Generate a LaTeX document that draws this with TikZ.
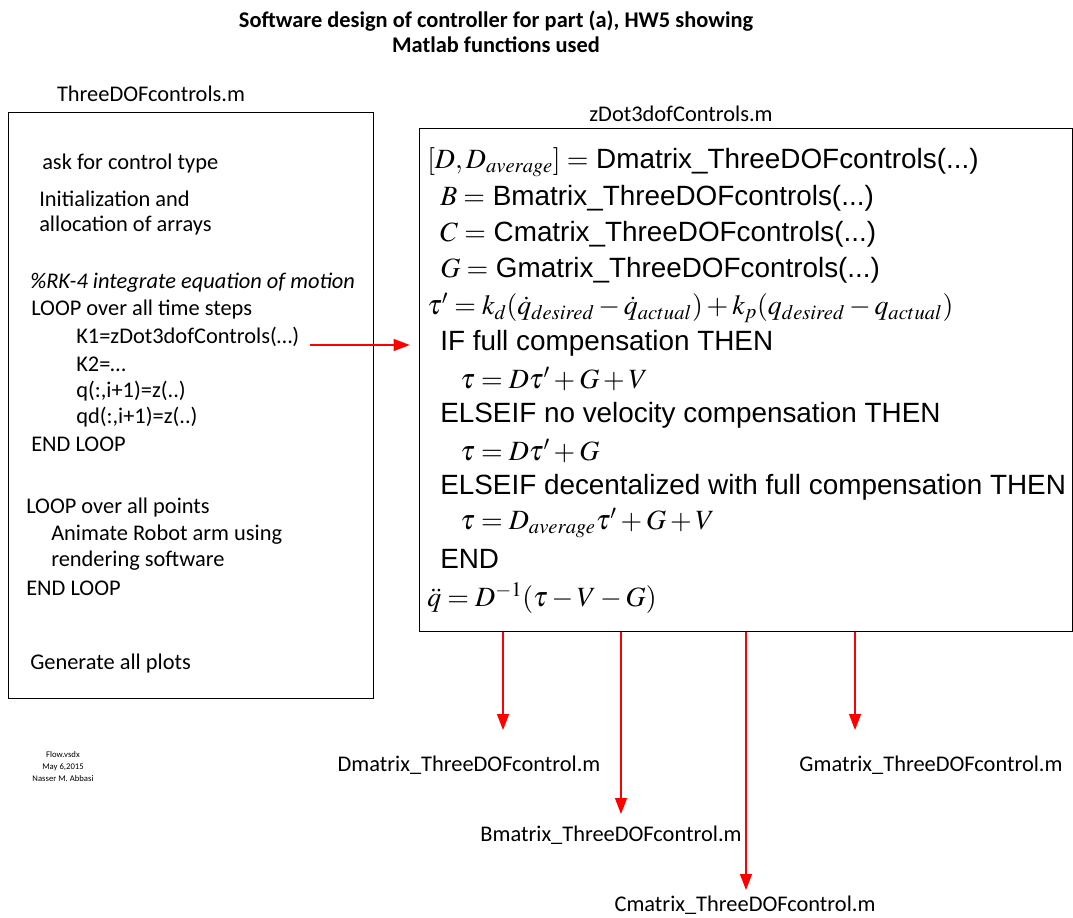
\documentclass[tikz,border=0pt]{standalone}
\usepackage{mathptmx}
\usepackage[no-math]{fontspec}
\setmainfont{Carlito}
\newfontfamily\arialfont{Liberation Sans}
\usetikzlibrary{arrows.meta,positioning}
\definecolor{ArrowRed}{HTML}{FF0000}
\tikzset{
 box/.style={draw=black, line width=0.9pt, inner sep=0pt, anchor=north west},
 ltxt/.style={anchor=west, inner sep=0pt, font=\fontsize{16.8}{20}\selectfont},
 rtxt/.style={anchor=west, inner sep=0pt, font=\arialfont\fontsize{20.9}{24}\selectfont},
 filelabel/.style={inner sep=0pt, font=\fontsize{16.8}{20}\selectfont},
 arrow/.style={-{Triangle[length=12pt,width=9pt]}, draw=ArrowRed, line width=0.8pt}
}

\begin{document}
\begin{tikzpicture}[x=0.75pt,y=-0.75pt]
\useasboundingbox (0,0) rectangle (1073,917);
\node[align=center, font=\bfseries\fontsize{16.8}{19}\selectfont] (title) at (496,32) {Software design of controller for part (a), HW5 showing\\Matlab functions used};

\node[filelabel] (mainlabel) at (151,94) {ThreeDOFcontrols.m};
\node[box, minimum width=273.75pt, minimum height=439.5pt] (lbox) at (8,112) {};
\foreach \x/\y/\t in {42/164/ask for control type, 39/199/Initialization and, 39/226/allocation of arrays,
  30/283/{\itshape\%RK-4 integrate equation of motion}, 31/310/LOOP over all time steps,
  76/364/K2=…, 76/391/{q(:,i+1)=z(..)}, 76/417/{qd(:,i+1)=z(..)}, 31/444/END LOOP,
  26/508/LOOP over all points, 51/535/Animate Robot arm using, 51/561/rendering software,
  26/588/END LOOP, 30/664/Generate all plots}{
  \node[ltxt] at (\x,\y) {\t};
}
\node[ltxt] (kone) at (76,337) {K1=zDot3dofControls(…)};

\node[filelabel] (zdotlabel) at (681,114) {zDot3dofControls.m};
\node[box, minimum width=489.75pt, minimum height=377.25pt] (rbox) at (419,128) {};
\node[rtxt] at (427,162) {$[D,D_{average}]=$ Dmatrix\_ThreeDOFcontrols(...)};
\node[rtxt] at (440,198) {$B=$ Bmatrix\_ThreeDOFcontrols(...)};
\node[rtxt] at (440,234) {$C=$ Cmatrix\_ThreeDOFcontrols(...)};
\node[rtxt] at (440,270) {$G=$ Gmatrix\_ThreeDOFcontrols(...)};
\node[rtxt] at (427,308) {$\tau'=k_d(\dot q_{desired}-\dot q_{actual})+k_p(q_{desired}-q_{actual})$};
\node[rtxt] at (440,343) {IF full compensation THEN};
\node[rtxt] at (460,379) {$\tau=D\tau'+G+V$};
\node[rtxt] at (440,415) {ELSEIF no velocity compensation THEN};
\node[rtxt] at (460,451) {$\tau=D\tau'+G$};
\node[rtxt] at (440,487) {ELSEIF decentalized with full compensation THEN};
\node[rtxt] at (460,523) {$\tau=D_{average}\tau'+G+V$};
\node[rtxt] at (440,559) {END};
\node[rtxt] at (427,598) {$\ddot q=D^{-1}(\tau-V-G)$};

\draw[arrow, shorten <=8pt, shorten >=7pt] ([yshift=-6pt]kone.east) -- ([yshift=-6pt]kone.east -| rbox.west);

\node[filelabel] (dfile) at (469,765) {Dmatrix\_ThreeDOFcontrol.m};
\node[filelabel] (bfile) at (611,835) {Bmatrix\_ThreeDOFcontrol.m};
\node[filelabel] (cfile) at (745,905) {Cmatrix\_ThreeDOFcontrol.m};
\node[filelabel] (gfile) at (931,765) {Gmatrix\_ThreeDOFcontrol.m};
\coordinate (dtip) at (503,730);
\coordinate (btip) at (621,814);
\coordinate (ctip) at (746,890);
\coordinate (gtip) at (855,730);
\foreach \c in {dtip,btip,ctip,gtip}{
  \draw[arrow] (rbox.south -| \c) -- (\c);
}

\node[align=center, inner sep=0pt, font=\fontsize{6.5}{9}\selectfont] (credit) at (63,767) {Flow.vsdx\\May 6,2015\\Nasser M. Abbasi};
\end{tikzpicture}
\end{document}
